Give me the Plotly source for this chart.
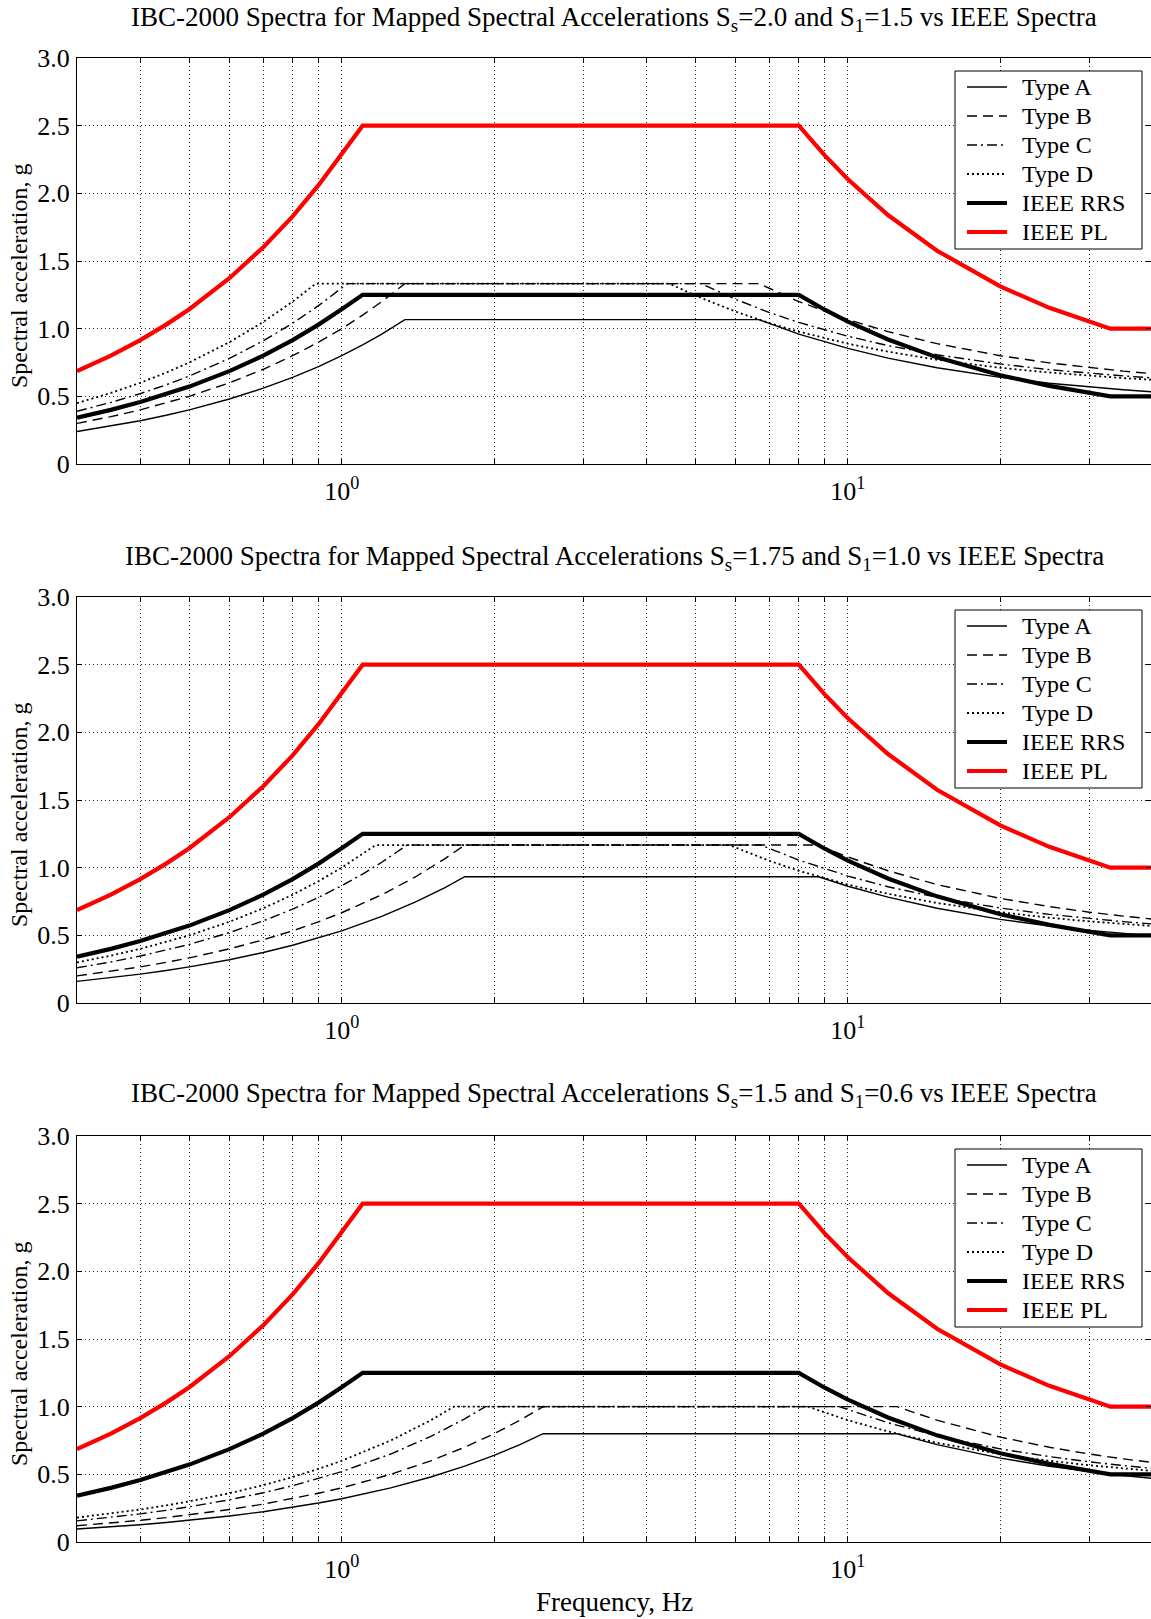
import math
import plotly.graph_objects as go

# ---------------- data (frequency in Hz, spectral acceleration in g) ----------------
ieee_freq = [0.3, 0.35, 0.4, 0.45, 0.5, 0.6, 0.7, 0.8, 0.9, 1.0, 1.1, 8, 9, 10, 12, 15, 20, 25, 30, 33, 40]
ieee_rrs = [0.343, 0.400, 0.458, 0.515, 0.572, 0.686, 0.801, 0.915, 1.030, 1.144, 1.25, 1.25, 1.14, 1.052, 0.92, 0.788, 0.656, 0.577, 0.524, 0.50, 0.50]
ieee_pl = [0.686, 0.80, 0.915, 1.03, 1.144, 1.373, 1.602, 1.83, 2.06, 2.288, 2.5, 2.5, 2.28, 2.104, 1.84, 1.576, 1.312, 1.154, 1.048, 1.0, 1.0]

# Panel 1: Ss=2.0, S1=1.5
p1_A_freq = [0.3, 0.35, 0.4, 0.45, 0.5, 0.6, 0.7, 0.8, 0.9, 1.0, 1.1, 1.2, 1.333, 6.67, 8, 10, 12, 15, 20, 25, 30, 35, 40]
p1_A_acc = [0.24, 0.28, 0.32, 0.36, 0.40, 0.48, 0.56, 0.64, 0.72, 0.80, 0.88, 0.96, 1.067, 1.067, 0.960, 0.854, 0.782, 0.711, 0.640, 0.597, 0.569, 0.549, 0.533]
p1_B_freq = [0.3, 0.35, 0.4, 0.45, 0.5, 0.6, 0.7, 0.8, 0.9, 1.0, 1.1, 1.2, 1.333, 6.67, 8, 10, 12, 15, 20, 25, 30, 35, 40]
p1_B_acc = [0.30, 0.35, 0.40, 0.45, 0.50, 0.60, 0.70, 0.80, 0.90, 1.00, 1.10, 1.20, 1.333, 1.333, 1.20, 1.067, 0.978, 0.889, 0.80, 0.747, 0.711, 0.686, 0.667]
p1_C_freq = [0.3, 0.35, 0.4, 0.45, 0.5, 0.6, 0.7, 0.8, 0.9, 1.0, 1.026, 5.13, 6, 7, 8, 10, 12, 15, 20, 25, 30, 35, 40]
p1_C_acc = [0.39, 0.455, 0.52, 0.585, 0.65, 0.78, 0.91, 1.04, 1.17, 1.30, 1.333, 1.333, 1.217, 1.119, 1.046, 0.944, 0.875, 0.807, 0.739, 0.697, 0.670, 0.651, 0.636]
p1_D_freq = [0.3, 0.35, 0.4, 0.45, 0.5, 0.6, 0.7, 0.8, 0.889, 4.44, 5, 6, 7, 8, 10, 12, 15, 20, 25, 30, 35, 40]
p1_D_acc = [0.45, 0.525, 0.60, 0.675, 0.75, 0.90, 1.05, 1.20, 1.333, 1.333, 1.244, 1.126, 1.041, 0.978, 0.889, 0.830, 0.770, 0.711, 0.676, 0.652, 0.635, 0.622]

# Panel 2: Ss=1.75, S1=1.0
p2_A_freq = [0.3, 0.35, 0.4, 0.45, 0.5, 0.6, 0.7, 0.8, 0.9, 1.0, 1.2, 1.4, 1.6, 1.75, 8.75, 10, 12, 15, 20, 25, 30, 35, 40]
p2_A_acc = [0.16, 0.187, 0.213, 0.24, 0.267, 0.32, 0.373, 0.427, 0.48, 0.533, 0.64, 0.747, 0.853, 0.933, 0.933, 0.863, 0.782, 0.70, 0.618, 0.569, 0.537, 0.513, 0.496]
p2_B_freq = [0.3, 0.35, 0.4, 0.45, 0.5, 0.6, 0.7, 0.8, 0.9, 1.0, 1.2, 1.4, 1.6, 1.75, 8.75, 10, 12, 15, 20, 25, 30, 35, 40]
p2_B_acc = [0.20, 0.233, 0.267, 0.30, 0.333, 0.40, 0.467, 0.533, 0.60, 0.667, 0.80, 0.933, 1.067, 1.167, 1.167, 1.079, 0.977, 0.875, 0.773, 0.712, 0.671, 0.642, 0.620]
p2_C_freq = [0.3, 0.35, 0.4, 0.45, 0.5, 0.6, 0.7, 0.8, 0.9, 1.0, 1.1, 1.2, 1.346, 6.73, 8, 10, 12, 15, 20, 25, 30, 35, 40]
p2_C_acc = [0.26, 0.303, 0.347, 0.39, 0.433, 0.52, 0.607, 0.693, 0.78, 0.867, 0.953, 1.04, 1.167, 1.167, 1.056, 0.938, 0.859, 0.781, 0.702, 0.655, 0.624, 0.601, 0.584]
p2_D_freq = [0.3, 0.35, 0.4, 0.45, 0.5, 0.6, 0.7, 0.8, 0.9, 1.0, 1.1, 1.167, 5.83, 7, 8, 10, 12, 15, 20, 25, 30, 35, 40]
p2_D_acc = [0.30, 0.35, 0.40, 0.45, 0.50, 0.60, 0.70, 0.80, 0.90, 1.00, 1.10, 1.167, 1.167, 1.050, 0.977, 0.875, 0.807, 0.739, 0.671, 0.630, 0.603, 0.583, 0.569]

# Panel 3: Ss=1.5, S1=0.6
p3_A_freq = [0.3, 0.35, 0.4, 0.45, 0.5, 0.6, 0.7, 0.8, 0.9, 1.0, 1.25, 1.5, 1.75, 2.0, 2.25, 2.5, 12.5, 15, 20, 25, 30, 35, 40]
p3_A_acc = [0.096, 0.112, 0.128, 0.144, 0.16, 0.192, 0.224, 0.256, 0.288, 0.32, 0.40, 0.48, 0.56, 0.64, 0.72, 0.80, 0.80, 0.72, 0.62, 0.56, 0.52, 0.491, 0.47]
p3_B_freq = [0.3, 0.35, 0.4, 0.45, 0.5, 0.6, 0.7, 0.8, 0.9, 1.0, 1.25, 1.5, 1.75, 2.0, 2.25, 2.5, 12.5, 15, 20, 25, 30, 35, 40]
p3_B_acc = [0.12, 0.14, 0.16, 0.18, 0.20, 0.24, 0.28, 0.32, 0.36, 0.40, 0.50, 0.60, 0.70, 0.80, 0.90, 1.00, 1.00, 0.90, 0.775, 0.70, 0.65, 0.614, 0.5875]
p3_C_freq = [0.3, 0.35, 0.4, 0.45, 0.5, 0.6, 0.7, 0.8, 0.9, 1.0, 1.25, 1.5, 1.75, 1.923, 9.615, 12, 15, 20, 25, 30, 35, 40]
p3_C_acc = [0.156, 0.182, 0.208, 0.234, 0.26, 0.312, 0.364, 0.416, 0.468, 0.52, 0.65, 0.78, 0.91, 1.0, 1.0, 0.881, 0.785, 0.688, 0.631, 0.592, 0.565, 0.544]
p3_D_freq = [0.3, 0.35, 0.4, 0.45, 0.5, 0.6, 0.7, 0.8, 0.9, 1.0, 1.25, 1.5, 1.667, 8.333, 10, 12, 15, 20, 25, 30, 35, 40]
p3_D_acc = [0.18, 0.21, 0.24, 0.27, 0.30, 0.36, 0.42, 0.48, 0.54, 0.60, 0.75, 0.90, 1.0, 1.0, 0.90, 0.817, 0.733, 0.65, 0.60, 0.567, 0.543, 0.525]

series_names = ["Type A", "Type B", "Type C", "Type D", "IEEE RRS", "IEEE PL"]

panel_titles = [
    "IBC-2000 Spectra for Mapped Spectral Accelerations S<sub>s</sub>=2.0 and S<sub>1</sub>=1.5 vs IEEE Spectra",
    "IBC-2000 Spectra for Mapped Spectral Accelerations S<sub>s</sub>=1.75 and S<sub>1</sub>=1.0 vs IEEE Spectra",
    "IBC-2000 Spectra for Mapped Spectral Accelerations S<sub>s</sub>=1.5 and S<sub>1</sub>=0.6 vs IEEE Spectra",
]

x_tickvals = [0.4, 0.5, 0.6, 0.7, 0.8, 0.9, 1, 2, 3, 4, 5, 6, 7, 8, 9, 10, 20, 30]
x_ticktext = ["", "", "", "", "", "", "10<sup>0</sup>", "", "", "", "", "", "", "", "", "10<sup>1</sup>", "", ""]
y_tickvals = [0, 0.5, 1.0, 1.5, 2.0, 2.5, 3.0]
y_ticktext = ["0", "0.5", "1.0", "1.5", "2.0", "2.5", "3.0"]

panels = [
    [(p1_A_freq, p1_A_acc), (p1_B_freq, p1_B_acc), (p1_C_freq, p1_C_acc), (p1_D_freq, p1_D_acc)],
    [(p2_A_freq, p2_A_acc), (p2_B_freq, p2_B_acc), (p2_C_freq, p2_C_acc), (p2_D_freq, p2_D_acc)],
    [(p3_A_freq, p3_A_acc), (p3_B_freq, p3_B_acc), (p3_C_freq, p3_C_acc), (p3_D_freq, p3_D_acc)],
]

# ---------------- styling / layout ----------------
W, H = 1151, 1619
FONT = "Liberation Serif"
x_left_px, x_right_px = 77, 1151
panel_px = [(58, 464), (597, 1003), (1136, 1542)]
title_px = [19, 558, 1095]

line_styles = [
    dict(color="black", width=1.4, dash="solid"),
    dict(color="black", width=1.4, dash="10px,6px"),
    dict(color="black", width=1.4, dash="10px,4px,2px,4px"),
    dict(color="black", width=1.8, dash="2px,3px"),
    dict(color="black", width=4.2, dash="solid"),
    dict(color="red", width=4.2, dash="solid"),
]

fig = go.Figure()

for i, panel in enumerate(panels):
    suffix = "" if i == 0 else str(i + 1)
    curves = panel + [(ieee_freq, ieee_rrs), (ieee_freq, ieee_pl)]
    for name, (fx, fy), st in zip(series_names, curves, line_styles):
        fig.add_trace(go.Scatter(
            x=fx, y=fy, mode="lines", name=name, line=st,
            xaxis="x" + suffix, yaxis="y" + suffix,
            showlegend=False,
        ))

layout = dict(
    width=W, height=H,
    margin=dict(l=0, r=0, t=0, b=0),
    paper_bgcolor="white", plot_bgcolor="white",
    font=dict(family=FONT, size=22, color="black"),
    annotations=[], shapes=[], showlegend=False,
)


def px(x):
    return x / W


def py(y):
    return 1 - y / H


xdom = [px(x_left_px), px(x_right_px)]
axis_font = dict(family=FONT, size=26, color="black")
for i, (top, bot) in enumerate(panel_px):
    suffix = "" if i == 0 else str(i + 1)
    ydom = [py(bot), py(top)]
    layout["xaxis" + suffix] = dict(
        type="log", range=[math.log10(0.3), math.log10(39.7)], domain=xdom,
        anchor="y" + suffix, tickvals=x_tickvals, ticktext=x_ticktext,
        ticks="inside", ticklen=5, tickcolor="black",
        showline=True, linecolor="black", linewidth=1, mirror="ticks",
        showgrid=True, gridcolor="#222", gridwidth=1, griddash="1px,3px",
        zeroline=False, tickfont=axis_font,
        ticklabelstandoff=4, automargin=False, fixedrange=True,
    )
    layout["yaxis" + suffix] = dict(
        range=[0, 3], domain=ydom, anchor="x" + suffix,
        tickvals=y_tickvals, ticktext=y_ticktext,
        ticks="inside", ticklen=5, tickcolor="black",
        showline=True, linecolor="black", linewidth=1, mirror="ticks",
        showgrid=True, gridcolor="#222", gridwidth=1, griddash="1px,3px",
        zeroline=False, tickfont=axis_font,
        ticklabelstandoff=1, automargin=False, fixedrange=True,
    )
    # panel title
    layout["annotations"].append(dict(
        text=panel_titles[i], x=(px(x_left_px) + px(x_right_px)) / 2, y=py(title_px[i]),
        xref="paper", yref="paper", xanchor="center", yanchor="middle",
        showarrow=False, font=dict(family=FONT, size=27, color="black"),
    ))
    # y axis label
    layout["annotations"].append(dict(
        text="Spectral acceleration, g", x=px(19), y=py((top + bot) / 2 + 15),
        xref="paper", yref="paper", xanchor="center", yanchor="middle", textangle=-90,
        showarrow=False, font=dict(family=FONT, size=24, color="black"),
    ))
    # legend box (drawn as shapes + text)
    lg_top, lg_bot = top + 13, top + 191
    layout["shapes"].append(dict(
        type="rect", xref="paper", yref="paper",
        x0=px(955), x1=px(1142), y0=py(lg_bot), y1=py(lg_top),
        fillcolor="white", line=dict(color="black", width=1), layer="above",
    ))
    for k, (name, st) in enumerate(zip(series_names, line_styles)):
        yy = top + 29 + k * 29
        layout["shapes"].append(dict(
            type="line", xref="paper", yref="paper",
            x0=px(967), x1=px(1007), y0=py(yy), y1=py(yy),
            line=dict(color=st["color"], width=st["width"], dash=st["dash"]), layer="above",
        ))
        layout["annotations"].append(dict(
            text=name, x=px(1020), y=py(yy), xref="paper", yref="paper",
            xanchor="left", yanchor="middle", showarrow=False,
            font=dict(family=FONT, size=24, color="black"),
        ))

layout["annotations"].append(dict(
    text="Frequency, Hz", x=(px(x_left_px) + px(x_right_px)) / 2, y=py(1602),
    xref="paper", yref="paper", xanchor="center", yanchor="middle",
    showarrow=False, font=dict(family=FONT, size=27, color="black"),
))

fig.update_layout(**layout)
fig.write_html("out.html")
